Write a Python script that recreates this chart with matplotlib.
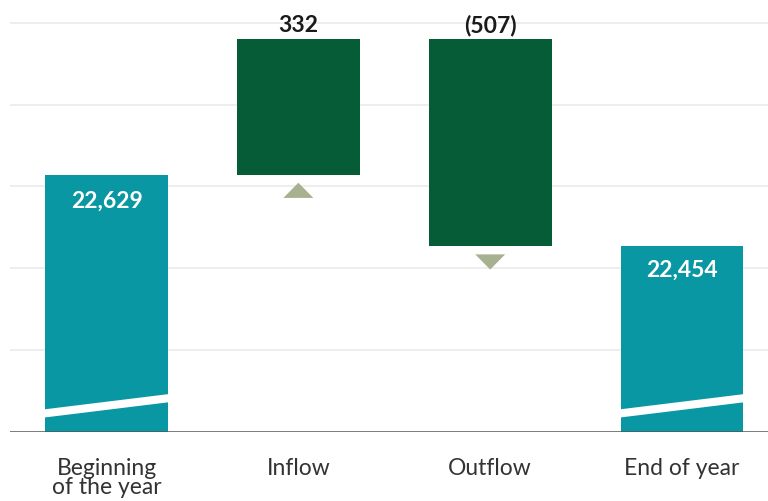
import matplotlib
matplotlib.use("Agg")
import matplotlib.pyplot as plt
from matplotlib.patches import Polygon

categories = ["Beginning\nof the year", "Inflow", "Outflow", "End of year"]
start_value = 22629
changes = [332, -507]
end_value = 22454
value_labels = ["22,629", "332", "(507)", "22,454"]
y_ticks = [22000, 22200, 22400, 22600, 22800, 23000]

TEAL = "#0897a3"
GREEN = "#065c36"
OLIVE = "#a7b08f"

plt.rcParams['font.family'] = ['Lato', 'DejaVu Sans']

fig = plt.figure(figsize=(7.68, 5.02), dpi=100)
ax = fig.add_axes([10/768, (502-433)/502, 758/768, 433/502])

ymin = 22000
ax.set_ylim(ymin, 23058)
ax.set_xlim(-0.503, 3.448)
w = 0.64

for t in y_ticks[1:]:
    ax.axhline(t, color="#ebebeb", lw=1.2, zorder=0)
ax.axhline(ymin, color="#555555", lw=1.8, zorder=5)

# totals
for i, v in [(0, start_value), (3, end_value)]:
    ax.bar(i, v - ymin, bottom=ymin, width=w, color=TEAL, zorder=2)
    xl, xr = i - w/2 - 0.01, i + w/2 + 0.01
    band = Polygon([(xl, 22035), (xr, 22073), (xr, 22093), (xl, 22055)],
                   closed=True, facecolor="white", edgecolor="none", zorder=3)
    ax.add_patch(band)

# changes
level = start_value
for j, c in enumerate(changes):
    i = j + 1
    lo, hi = min(level, level + c), max(level, level + c)
    ax.bar(i, hi - lo, bottom=lo, width=w, color=GREEN, zorder=2)
    tw = 0.078
    if c > 0:
        tri = [(i - tw, lo - 57), (i + tw, lo - 57), (i, lo - 20)]
    else:
        tri = [(i - tw, lo - 20), (i + tw, lo - 20), (i, lo - 57)]
    ax.add_patch(Polygon(tri, closed=True, facecolor=OLIVE, edgecolor="none", zorder=2))
    level += c

top = max(start_value, start_value + changes[0])
ax.text(0, start_value - 62, value_labels[0], ha="center", va="center",
        color="white", fontsize=16.5, fontweight="bold", zorder=4)
ax.text(3, end_value - 55, value_labels[3], ha="center", va="center",
        color="white", fontsize=16.5, fontweight="bold", zorder=4)
ax.text(1, top + 9, value_labels[1], ha="center", va="bottom",
        color="#1a1a1a", fontsize=16.5, fontweight="bold", zorder=4)
ax.text(2, top + 9, value_labels[2], ha="center", va="bottom",
        color="#1a1a1a", fontsize=16.5, fontweight="bold", zorder=4)

ax.set_xticks(range(4))
ax.set_xticklabels(categories, fontsize=16.5, color="#333333", linespacing=0.88)
ax.tick_params(axis="x", length=0, pad=18)
ax.set_yticks([])
for s in ax.spines.values():
    s.set_visible(False)

fig.savefig("out.png", dpi=100)
